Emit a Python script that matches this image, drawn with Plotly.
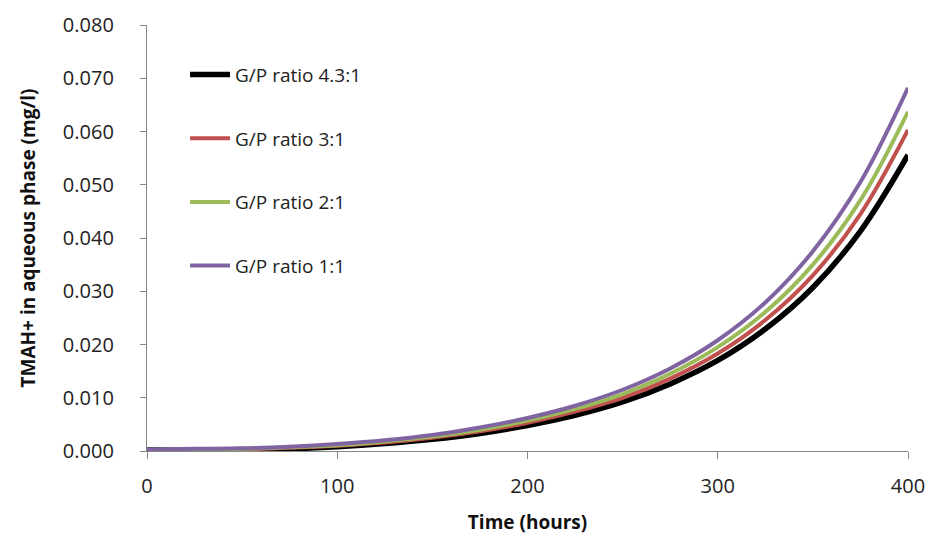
import plotly.graph_objects as go

time_h = [0, 25, 50, 75, 100, 125, 150, 175, 200, 225, 250, 275, 300, 325, 350, 375, 400]

ratio_43 = [0.0002, 0.0002, 0.0002, 0.0004, 0.0008, 0.0014, 0.0022, 0.0033, 0.0048, 0.0067, 0.0092, 0.0126, 0.0170, 0.0229, 0.0307, 0.0413, 0.0556]
ratio_3 = [0.0002, 0.0002, 0.0003, 0.0006, 0.0010, 0.0016, 0.0025, 0.0037, 0.0053, 0.0074, 0.0100, 0.0136, 0.0183, 0.0246, 0.0330, 0.0445, 0.0603]
ratio_2 = [0.0002, 0.0003, 0.0004, 0.0007, 0.0011, 0.0018, 0.0027, 0.0040, 0.0057, 0.0079, 0.0107, 0.0145, 0.0195, 0.0261, 0.0350, 0.0471, 0.0637]
ratio_1 = [0.0003, 0.0004, 0.0005, 0.0008, 0.0013, 0.0020, 0.0030, 0.0044, 0.0062, 0.0085, 0.0115, 0.0155, 0.0208, 0.0279, 0.0375, 0.0505, 0.0682]

series_names = ["G/P ratio 4.3:1", "G/P ratio 3:1", "G/P ratio 2:1", "G/P ratio 1:1"]
series_values = [ratio_43, ratio_3, ratio_2, ratio_1]
series_colors = ["#000000", "#C0504D", "#9BBB59", "#8064A2"]
series_widths = [5.5, 4, 4, 4]

x_ticks = [0, 100, 200, 300, 400]
y_ticks = [0.0, 0.01, 0.02, 0.03, 0.04, 0.05, 0.06, 0.07, 0.08]
y_tick_labels = ["%.3f" % v for v in y_ticks]

fig = go.Figure()
for i, (name, vals, col, w) in enumerate(zip(series_names, series_values, series_colors, series_widths)):
    fig.add_trace(go.Scatter(
        x=time_h, y=vals, mode="lines", name=name,
        line=dict(color=col, width=w, shape="spline", smoothing=1.0),
        legendgroup="g%d" % i,
    ))

font_family = "Open Sans, Noto Sans, sans-serif"
axis_col = "#868686"

fig.update_layout(
    width=926, height=533,
    margin=dict(l=139, r=26, t=17, b=90, autoexpand=False),
    paper_bgcolor="white", plot_bgcolor="white",
    font=dict(family=font_family, size=19, color="#222222"),
    showlegend=True,
    legend=dict(
        x=0.05, y=0.928, xanchor="left", yanchor="top",
        font=dict(size=19, color="#222222"),
        tracegroupgap=36, bgcolor="rgba(0,0,0,0)",
        itemwidth=40,
    ),
    xaxis=dict(
        range=[0, 400], tickvals=x_ticks, ticktext=[str(v) for v in x_ticks],
        showgrid=False, zeroline=False, showline=True, linecolor=axis_col, linewidth=1.3,
        ticks="outside", ticklen=7, tickcolor=axis_col, tickwidth=1.3,
        ticklabelstandoff=10,
        tickfont=dict(size=20, family=font_family, color="#222222"),
        title=dict(text="<b>Time (hours)</b>", font=dict(size=19, family=font_family, color="#111111"), standoff=17),
    ),
    yaxis=dict(
        range=[0, 0.08], tickvals=y_ticks, ticktext=y_tick_labels,
        showgrid=False, zeroline=False, showline=True, linecolor=axis_col, linewidth=1.3,
        ticks="outside", ticklen=6, tickcolor=axis_col, tickwidth=1.3,
        ticklabelstandoff=22,
        tickfont=dict(size=20, family=font_family, color="#222222"),
        title=dict(text="<b>TMAH+ in aqueous phase (mg/l)</b>", font=dict(size=19, family=font_family, color="#111111"), standoff=22),
    ),
)

fig.write_html("out.html")
